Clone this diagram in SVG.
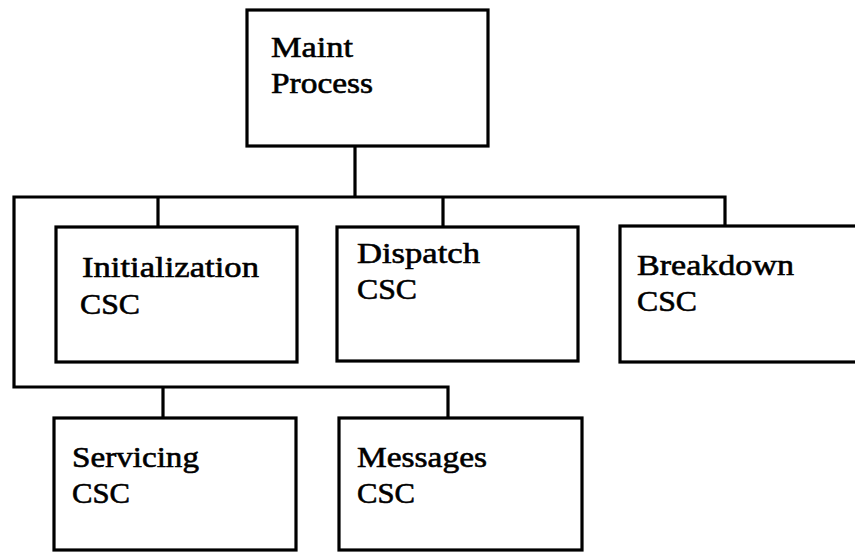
<svg xmlns="http://www.w3.org/2000/svg" width="855" height="552" viewBox="0 0 855 552">
<style>
.box{fill:#fff;stroke:#000;stroke-width:3.2}
.conn{fill:none;stroke:#000;stroke-width:3.2;stroke-linecap:square}
.t{font-family:"Liberation Serif","Times New Roman",serif;font-size:30px;fill:#000;stroke:#000;stroke-width:0.6}
</style>
<rect width="855" height="552" fill="#fff"/>
<g id="connectors">
<path class="conn" d="M355 146 V197 M14 197 H725 M158 197 V227 M443 197 V227 M725 197 V226 M14 197 V387 H448 M163 387 V418 M448 387 V418"/>
</g>
<g id="maint">
<rect class="box" x="247" y="10" width="241" height="136"/>
<text class="t" x="271" y="57" textLength="82" lengthAdjust="spacingAndGlyphs">Maint</text>
<text class="t" x="271" y="93" textLength="102" lengthAdjust="spacingAndGlyphs">Process</text>
</g>
<g id="initialization">
<rect class="box" x="56" y="227" width="241" height="135"/>
<text class="t" x="82" y="277" textLength="177" lengthAdjust="spacingAndGlyphs">Initialization</text>
<text class="t" x="80" y="314" textLength="60" lengthAdjust="spacingAndGlyphs">CSC</text>
</g>
<g id="dispatch">
<rect class="box" x="337" y="227" width="241" height="134"/>
<text class="t" x="357" y="263" textLength="123" lengthAdjust="spacingAndGlyphs">Dispatch</text>
<text class="t" x="357" y="299" textLength="60" lengthAdjust="spacingAndGlyphs">CSC</text>
</g>
<g id="breakdown">
<rect class="box" x="620" y="226" width="250" height="136"/>
<text class="t" x="637" y="275" textLength="157" lengthAdjust="spacingAndGlyphs">Breakdown</text>
<text class="t" x="637" y="311" textLength="60" lengthAdjust="spacingAndGlyphs">CSC</text>
</g>
<g id="servicing">
<rect class="box" x="54" y="418" width="242" height="132"/>
<text class="t" x="72" y="467" textLength="127" lengthAdjust="spacingAndGlyphs">Servicing</text>
<text class="t" x="72" y="503" textLength="58" lengthAdjust="spacingAndGlyphs">CSC</text>
</g>
<g id="messages">
<rect class="box" x="339" y="418" width="243" height="132"/>
<text class="t" x="357" y="467" textLength="130" lengthAdjust="spacingAndGlyphs">Messages</text>
<text class="t" x="357" y="503" textLength="58" lengthAdjust="spacingAndGlyphs">CSC</text>
</g>
</svg>
